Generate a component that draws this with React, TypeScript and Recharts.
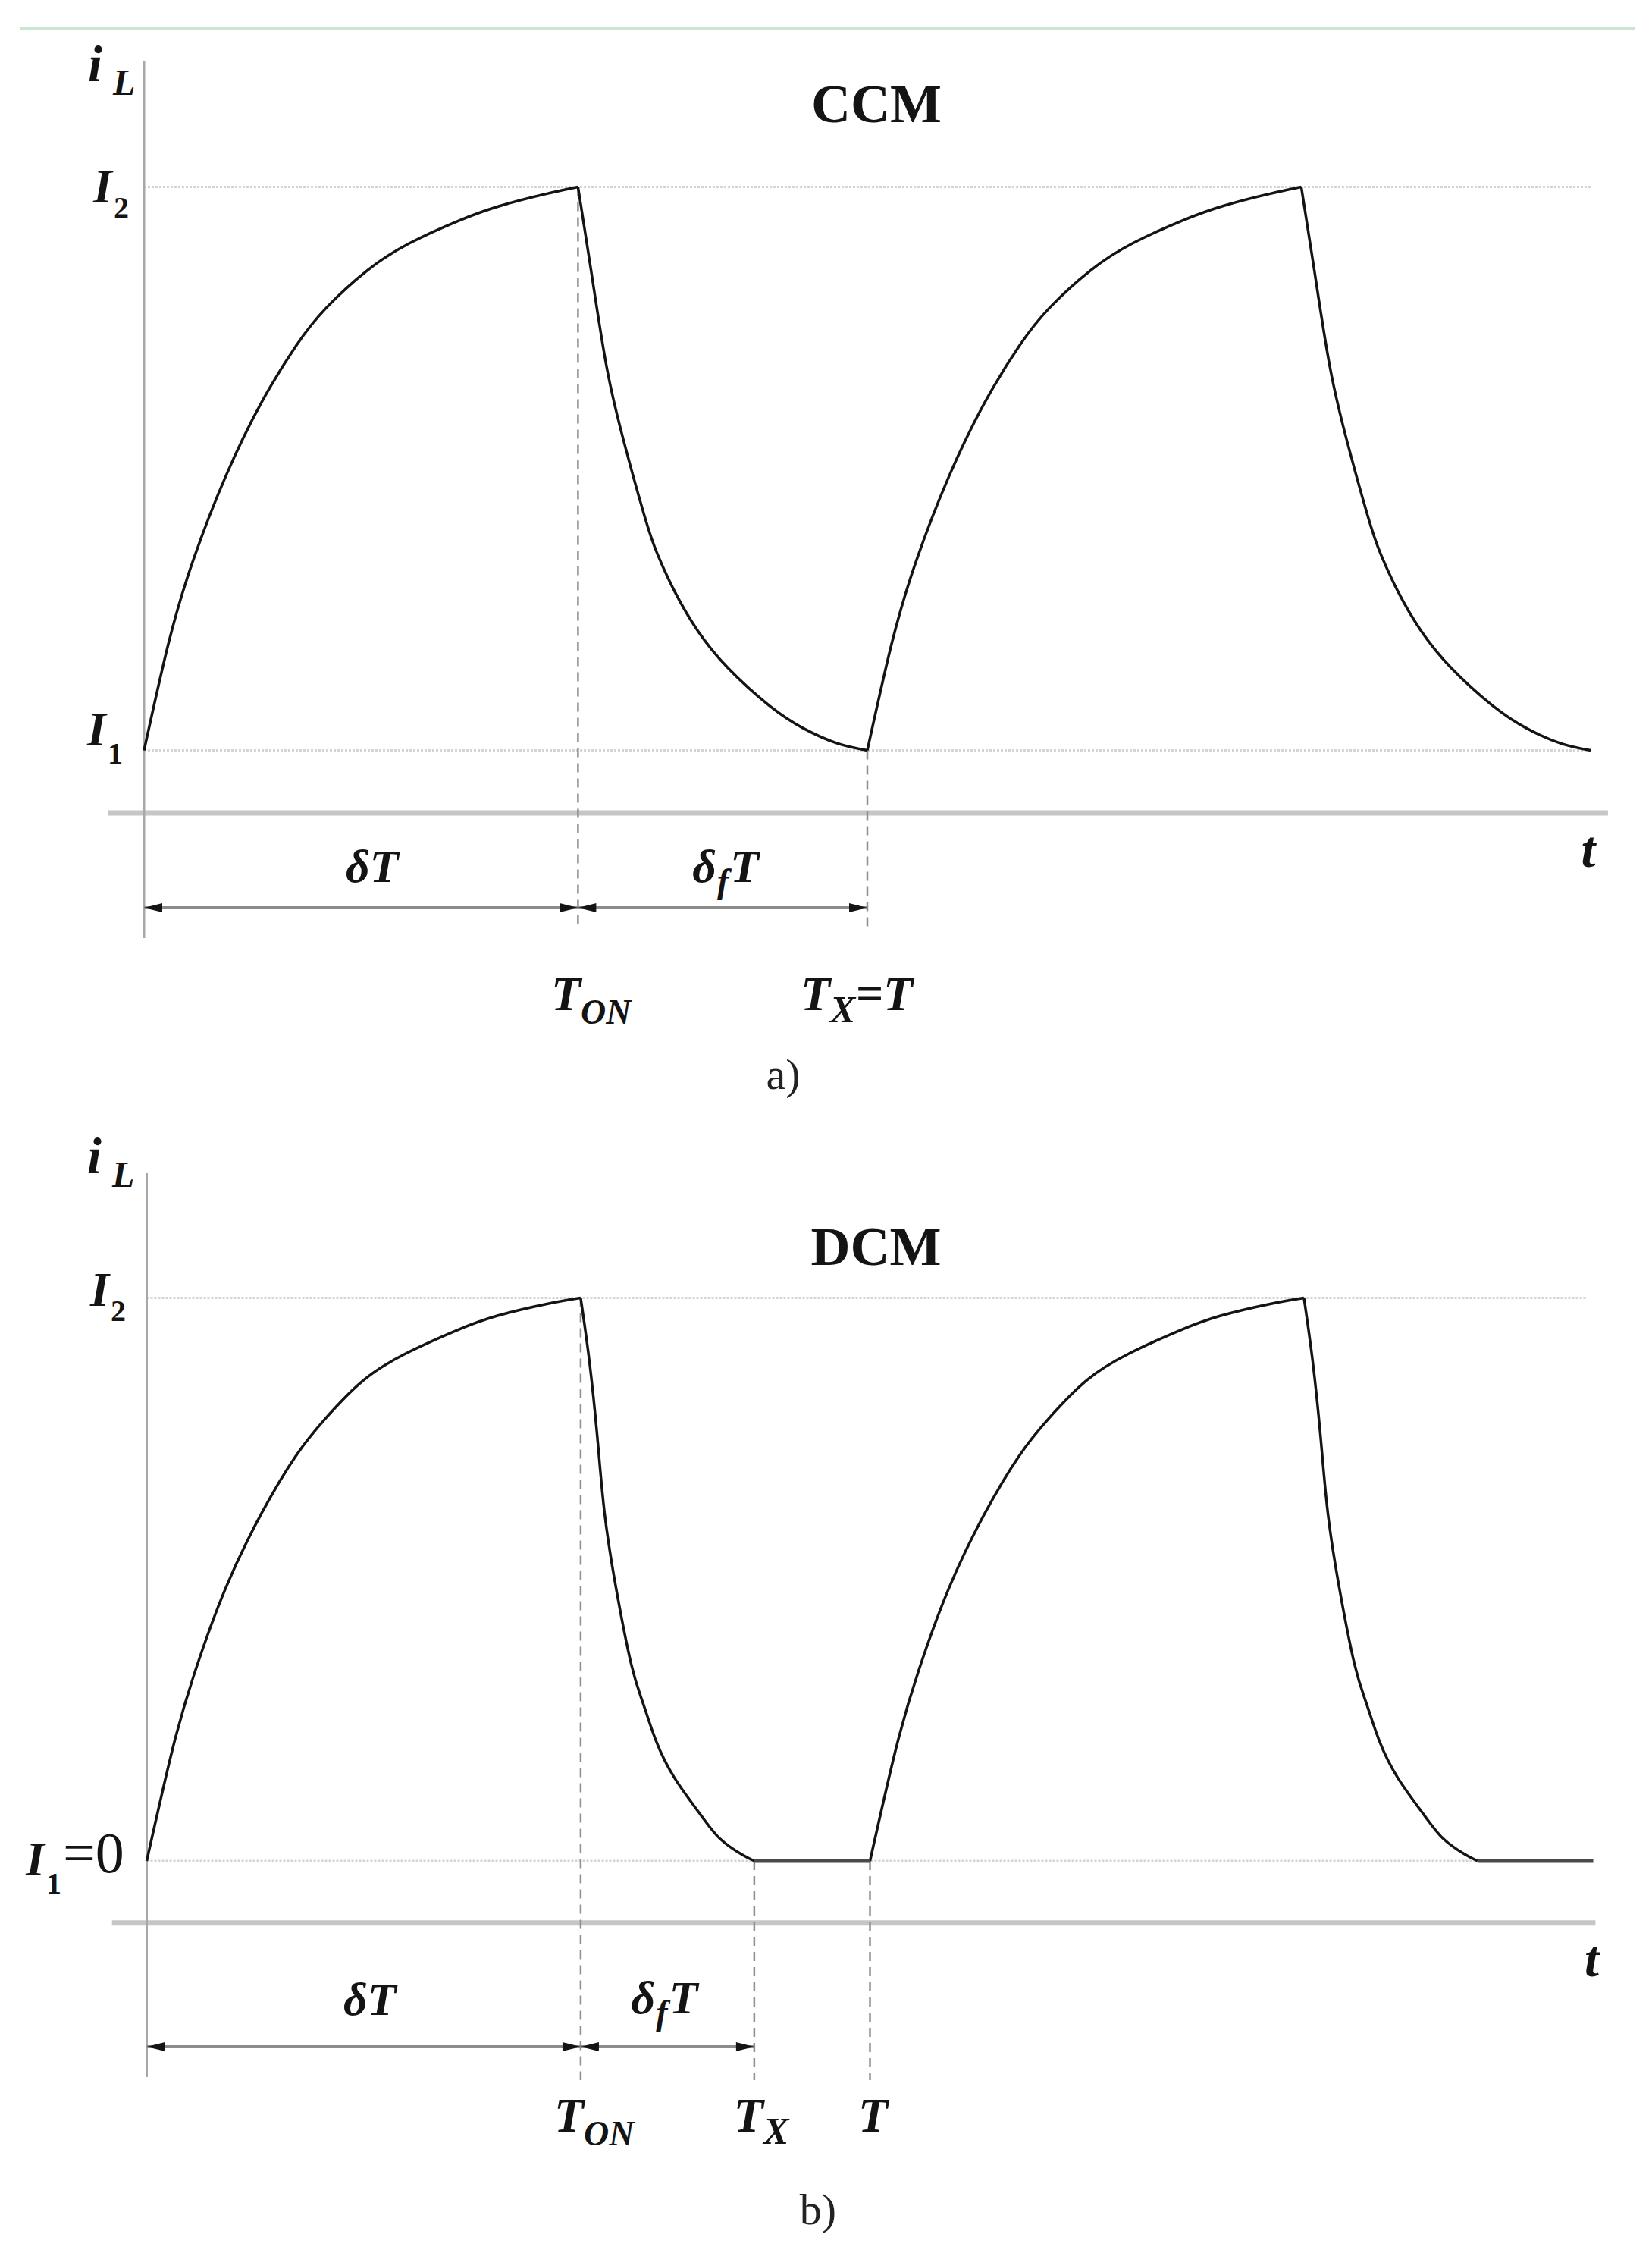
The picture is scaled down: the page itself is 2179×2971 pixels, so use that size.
import React from "react";
import { LineChart, Line, XAxis, YAxis, ReferenceLine, ReferenceDot } from "recharts";

// ---------------- data ----------------
// time in units of the switching period T, current normalised so that I2 = 1
const PERIOD_STARTS = [0, 1];

// a) CCM – one period
const ccmRiseT = [0, 0.034, 0.068, 0.113, 0.162, 0.21, 0.252, 0.309, 0.367, 0.435, 0.493, 0.556, 0.6];
const ccmRiseI = [0.1, 0.272, 0.404, 0.538, 0.655, 0.746, 0.807, 0.867, 0.91, 0.946, 0.97, 0.989, 1.0];
const ccmFallT = [0.6, 0.618, 0.639, 0.663, 0.692, 0.71, 0.734, 0.765, 0.807, 0.865, 0.912, 0.959, 1.0];
const ccmFallI = [1.0, 0.867, 0.716, 0.595, 0.474, 0.413, 0.353, 0.292, 0.232, 0.171, 0.135, 0.111, 0.1];
const ccmLevels = [0.1, 1.0];
const ccmLevelLabels = [
  { main: "I", sub: "1", subUpright: true },
  { main: "I", sub: "2", subUpright: true },
];
const ccmMarks = [0.6, 1.0];
const ccmMarkLabels = [
  { main: "T", sub: "ON" },
  { main: "T", sub: "X", rest: "=T" },
];
const ccmSpans = [
  [0, 0.6],
  [0.6, 1.0],
];
const ccmSpanLabels = [{ main: "δT" }, { main: "δ", sub: "f", rest: "T" }];

// b) DCM – one period
const dcmRiseT = [0, 0.036, 0.067, 0.109, 0.159, 0.206, 0.248, 0.3, 0.358, 0.426, 0.484, 0.552, 0.6];
const dcmRiseI = [0, 0.2, 0.337, 0.484, 0.618, 0.719, 0.787, 0.854, 0.901, 0.941, 0.968, 0.989, 1.0];
const dcmFallT = [0.6, 0.612, 0.623, 0.633, 0.649, 0.67, 0.686, 0.704, 0.73, 0.767, 0.793, 0.822, 0.84];
const dcmFallI = [1.0, 0.888, 0.753, 0.618, 0.484, 0.349, 0.281, 0.214, 0.147, 0.08, 0.039, 0.012, 0];
const dcmIdleT = [0.84, 1.0];
const dcmIdleI = [0, 0];
const dcmLevels = [0, 1.0];
const dcmLevelLabels = [
  { main: "I", sub: "1", rest: "=0", upright: true, subUpright: true },
  { main: "I", sub: "2", subUpright: true },
];
const dcmMarks = [0.6, 0.84, 1.0];
const dcmMarkLabels = [
  { main: "T", sub: "ON" },
  { main: "T", sub: "X" },
  { main: "T" },
];
const dcmSpans = [
  [0, 0.6],
  [0.6, 0.84],
];
const dcmSpanLabels = [{ main: "δT" }, { main: "δ", sub: "f", rest: "T" }];

// ---------------- styling ----------------
const SERIF = "'Liberation Serif', 'Times New Roman', serif";
const INK = "#141414";

type Seg = { key: string; t: number[]; v: number[] };

function buildRows(segs: Seg[]) {
  const keys = segs.map((s) => s.key);
  const map = new Map<string, any>();
  for (const c of PERIOD_STARTS) {
    for (const s of segs) {
      s.t.forEach((t, i) => {
        const tt = Math.round((t + c) * 10000) / 10000;
        const id = tt.toFixed(4);
        let row = map.get(id);
        if (!row) {
          row = { t: tt };
          keys.forEach((k) => (row[k] = null));
          map.set(id, row);
        }
        row[s.key] = s.v[i];
      });
    }
  }
  return Array.from(map.values()).sort((a, b) => a.t - b.t);
}

const ccmRows = buildRows([
  { key: "rise", t: ccmRiseT, v: ccmRiseI },
  { key: "fall", t: ccmFallT, v: ccmFallI },
]);
const dcmRows = buildRows([
  { key: "rise", t: dcmRiseT, v: dcmRiseI },
  { key: "fall", t: dcmFallT, v: dcmFallI },
  { key: "idle", t: dcmIdleT, v: dcmIdleI },
]);

const MathText = ({ x, y, lbl, st, size = 64, subSize = 44, anchor = "start" }: any) => {
  const subDy = st.subDy ?? 18;
  return (
    <text
      x={x + (st.dx ?? 0)}
      y={y + (st.dy ?? 0)}
      fontFamily={SERIF}
      fontStyle="italic"
      fontWeight={700}
      fontSize={st.size ?? size}
      fill={INK}
      textAnchor={anchor}
    >
      <tspan>{lbl.main}</tspan>
      {lbl.sub ? (
        <tspan
          dx={st.subDx ?? 0}
          dy={subDy}
          fontSize={st.subSize ?? subSize}
          fontStyle={lbl.subUpright ? "normal" : "italic"}
        >
          {lbl.sub}
        </tspan>
      ) : null}
      {lbl.rest ? (
        <tspan
          dx={st.restDx ?? 0}
          dy={lbl.sub ? st.restDy ?? -subDy : 0}
          fontSize={st.restSize ?? st.size ?? size}
          fontStyle={lbl.upright ? "normal" : "italic"}
          fontWeight={lbl.upright ? 400 : 700}
        >
          {lbl.rest}
        </tspan>
      ) : null}
    </text>
  );
};

const SpanArrow = (p: any) => {
  const { x1, x2, y1, lbl, st } = p;
  const l = Math.min(x1, x2);
  const r = Math.max(x1, x2);
  const y = y1;
  const L = 24;
  const H = 6;
  return (
    <g>
      <line x1={l} y1={y} x2={r} y2={y} stroke="#8c8c8c" strokeWidth={4} />
      <polygon points={`${l},${y} ${l + L},${y - H} ${l + L},${y + H}`} fill={INK} />
      <polygon points={`${r},${y} ${r - L},${y - H} ${r - L},${y + H}`} fill={INK} />
      <MathText x={(l + r) / 2} y={y} lbl={lbl} st={st} size={62} subSize={46} anchor={st.anchor ?? "start"} />
    </g>
  );
};

function Panel(props: any) {
  const c = props.cfg;
  const TickY = (tp: any) => {
    const i = c.levels.indexOf(tp.payload.value);
    if (i < 0) return <g />;
    return <MathText x={tp.x} y={tp.y} lbl={c.levelLabels[i]} st={c.levelStyles[i]} size={64} subSize={40} />;
  };
  const TickX = (tp: any) => {
    const i = c.marks.indexOf(tp.payload.value);
    if (i < 0) return <g />;
    return <MathText x={tp.x} y={tp.y} lbl={c.markLabels[i]} st={c.markStyles[i]} size={64} subSize={46} />;
  };
  const textDot = (node: (x: number, y: number) => any) => (p: any) =>
    p.cx == null ? <g /> : node(p.cx, p.cy);

  return (
    <div style={{ position: "absolute", left: 0, top: c.top, width: c.width, height: c.height }}>
      <LineChart width={c.width} height={c.height} data={c.rows} margin={c.margin}>
        <XAxis
          type="number"
          dataKey="t"
          domain={c.xDomain}
          allowDataOverflow
          ticks={c.marks}
          interval={0}
          axisLine={false}
          tickLine={false}
          tickSize={0}
          tickMargin={0}
          height={c.xAxisHeight}
          tick={TickX}
        />
        <YAxis
          type="number"
          domain={c.yDomain}
          allowDataOverflow
          ticks={c.levels}
          interval={0}
          axisLine={false}
          tickLine={false}
          tickSize={0}
          tickMargin={0}
          width={c.yAxisWidth}
          tick={TickY}
        />
        {/* level guide lines */}
        {c.levels.map((lv: number) => (
          <ReferenceLine
            key={"lv" + lv}
            segment={[
              { x: 0, y: lv },
              { x: c.guideEnd, y: lv },
            ]}
            stroke="#d4d4d4"
            strokeWidth={3}
            strokeDasharray="3 2"
          />
        ))}
        {/* t axis */}
        <ReferenceLine y={c.tAxisAt} stroke="#c6c6c6" strokeWidth={7} />
        {/* i axis */}
        <ReferenceLine
          segment={[
            { x: 0, y: c.iAxisRange[0] },
            { x: 0, y: c.iAxisRange[1] },
          ]}
          stroke="#a8a8a8"
          strokeWidth={3}
        />
        {/* dashed time markers */}
        {c.marks.map((m: number, i: number) => (
          <ReferenceLine
            key={"mk" + m}
            segment={[
              { x: m, y: c.markTop[i] },
              { x: m, y: c.markBottom },
            ]}
            stroke="#909090"
            strokeWidth={2.5}
            strokeDasharray="12 8"
          />
        ))}
        {/* interval arrows */}
        {c.spans.map((s: number[], i: number) => (
          <ReferenceLine
            key={"sp" + i}
            segment={[
              { x: s[0], y: c.arrowAt },
              { x: s[1], y: c.arrowAt },
            ]}
            shape={(p: any) => <SpanArrow {...p} lbl={c.spanLabels[i]} st={c.spanStyles[i]} />}
          />
        ))}
        {/* waveform */}
        <Line type="natural" dataKey="rise" stroke={INK} strokeWidth={3.5} dot={false} activeDot={false} isAnimationActive={false} />
        <Line type="natural" dataKey="fall" stroke={INK} strokeWidth={3.5} dot={false} activeDot={false} isAnimationActive={false} />
        {c.hasIdle ? (
          <Line type="linear" dataKey="idle" stroke="#4a4a4a" strokeWidth={5} dot={false} activeDot={false} isAnimationActive={false} />
        ) : null}
        {/* annotations */}
        <ReferenceDot
          x={c.iLabelAt[0]}
          y={c.iLabelAt[1]}
          r={1}
          ifOverflow="visible"
          shape={textDot((x, y) => (
            <MathText x={x} y={y} lbl={{ main: "i", sub: "L" }} st={{ subDx: 14, subDy: 18 }} size={68} subSize={48} />
          ))}
        />
        <ReferenceDot
          x={c.tLabelAt[0]}
          y={c.tLabelAt[1]}
          r={1}
          ifOverflow="visible"
          shape={textDot((x, y) => (
            <MathText x={x} y={y} lbl={{ main: "t" }} st={{}} size={68} />
          ))}
        />
        <ReferenceDot
          x={c.titleAt[0]}
          y={c.titleAt[1]}
          r={1}
          ifOverflow="visible"
          shape={textDot((x, y) => (
            <text x={x} y={y} textAnchor="middle" fontFamily={SERIF} fontWeight={700} fontSize={72} fill={INK}>
              {c.title}
            </text>
          ))}
        />
        <ReferenceDot
          x={c.captionAt[0]}
          y={c.captionAt[1]}
          r={1}
          ifOverflow="visible"
          shape={textDot((x, y) => (
            <text x={x} y={y} textAnchor="middle" fontFamily={SERIF} fontSize={58} fill="#222">
              {c.caption}
            </text>
          ))}
        />
      </LineChart>
    </div>
  );
}

const ccmCfg = {
  top: 0,
  width: 2179,
  height: 1490,
  margin: { top: 40.1, right: 58.1, bottom: 0, left: 0 },
  yAxisWidth: 142.3,
  xAxisHeight: 5.1,
  xDomain: [-0.05, 2.024],
  yDomain: [-0.5, 1.25],
  rows: ccmRows,
  hasIdle: false,
  levels: ccmLevels,
  levelLabels: ccmLevelLabels,
  levelStyles: [
    { dx: -27.3, dy: -6.5, subDx: 2, subDy: 24 },
    { dx: -19.3, dy: 20.5, subDx: 2, subDy: 20 },
  ],
  marks: ccmMarks,
  markLabels: ccmMarkLabels,
  markStyles: [
    { dx: -35.4, dy: -153, subDx: 0, subDy: 18 },
    { dx: -88, dy: -153, subDx: 0, subDy: 16, subSize: 50, restDx: 0 },
  ],
  markTop: [1.0, 0.1],
  markBottom: -0.1852,
  spans: ccmSpans,
  spanLabels: ccmSpanLabels,
  spanStyles: [
    { dx: 14.5, dy: -34, anchor: "middle" },
    { dx: -40, dy: -34, subDx: 1, subDy: 14, restDx: 2 },
  ],
  arrowAt: -0.1513,
  guideEnd: 2.0,
  tAxisAt: 0,
  iAxisRange: [-0.1997, 1.2016],
  iLabelAt: [-0.0776, 1.1689],
  tLabelAt: [1.987, -0.086],
  titleAt: [1.0126, 1.1035],
  title: "CCM",
  captionAt: [0.8836, -0.4408],
  caption: "a)",
};

const dcmCfg = {
  top: 1480,
  width: 2179,
  height: 1491,
  margin: { top: 8.75, right: 74.6, bottom: 0, left: 0 },
  yAxisWidth: 147.7,
  xAxisHeight: 12.1,
  xDomain: [-0.048, 2.003],
  yDomain: [-0.68, 1.3],
  rows: dcmRows,
  hasIdle: true,
  levels: dcmLevels,
  levelLabels: dcmLevelLabels,
  levelStyles: [
    { dx: -113.7, dy: 19, subDx: 2, subDy: 24, restDx: 2, restDy: -28, restSize: 76 },
    { dx: -28.7, dy: 10.5, subDx: 2, subDy: 20 },
  ],
  marks: dcmMarks,
  markLabels: dcmMarkLabels,
  markStyles: [
    { dx: -35, dy: -148, subDx: 0, subDy: 18 },
    { dx: -27, dy: -148, subDx: 0, subDy: 16, subSize: 50 },
    { dx: -15.5, dy: -148 },
  ],
  markTop: [1.0, 0, 0],
  markBottom: -0.3892,
  spans: dcmSpans,
  spanLabels: dcmSpanLabels,
  spanStyles: [
    { dx: 8, dy: -42, anchor: "middle" },
    { dx: -48, dy: -44, subDx: 1, subDy: 14, restDx: 2 },
  ],
  arrowAt: -0.33,
  guideEnd: 1.99,
  tAxisAt: -0.11,
  iAxisRange: [-0.3838, 1.2215],
  iLabelAt: [-0.0823, 1.2215],
  tLabelAt: [1.9879, -0.2047],
  titleAt: [1.0084, 1.0586],
  title: "DCM",
  captionAt: [0.9282, -0.6451],
  caption: "b)",
};

export default function App() {
  return (
    <div style={{ position: "absolute", left: 0, top: 0, width: 2179, height: 2971, background: "#ffffff", overflow: "hidden" }}>
      <div style={{ position: "absolute", left: 27, top: 36, width: 2130, height: 4, background: "#c9e7cc" }} />
      <Panel cfg={ccmCfg} />
      <Panel cfg={dcmCfg} />
    </div>
  );
}
